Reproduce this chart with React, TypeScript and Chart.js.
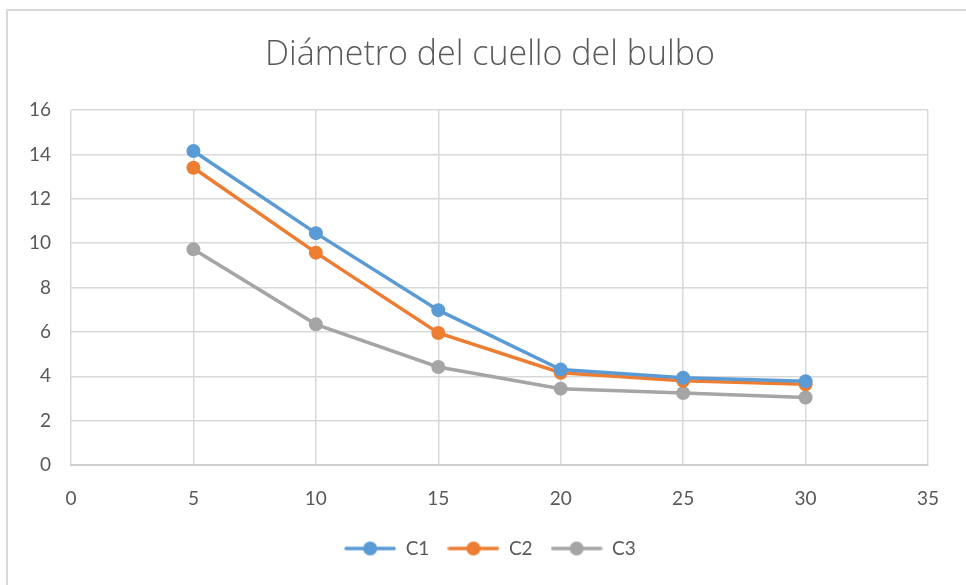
import React, { useEffect, useRef } from "react";
import { Chart, registerables } from "chart.js";

Chart.register(...registerables);

const TITLE = "Diámetro del cuello del bulbo";
const xValues = [5, 10, 15, 20, 25, 30];
const seriesNames = ["C1", "C2", "C3"];
const c1Values = [14.15, 10.45, 6.98, 4.3, 3.93, 3.77];
const c2Values = [13.4, 9.57, 5.95, 4.16, 3.8, 3.64];
const c3Values = [9.72, 6.34, 4.42, 3.44, 3.24, 3.04];
const seriesColors = ["#5B9BD5", "#ED7D31", "#A5A5A5"];

const FONT = "Lato, 'Open Sans', sans-serif";
const TITLE_FONT = "'Open Sans', Lato, sans-serif";
const TEXT_COLOR = "#595959";
const GRID_COLOR = "#D9D9D9";

function legendImage(color: string): HTMLCanvasElement {
  const c = document.createElement("canvas");
  c.width = 52;
  c.height = 16;
  const ctx = c.getContext("2d")!;
  ctx.strokeStyle = color;
  ctx.lineWidth = 3.5;
  ctx.lineCap = "round";
  ctx.beginPath();
  ctx.moveTo(2, 8);
  ctx.lineTo(50, 8);
  ctx.stroke();
  ctx.fillStyle = color;
  ctx.beginPath();
  ctx.arc(26, 8, 7, 0, Math.PI * 2);
  ctx.fill();
  return c;
}

export default function App() {
  const ref = useRef<HTMLCanvasElement | null>(null);

  useEffect(() => {
    if (!ref.current) return;
    const allValues = [c1Values, c2Values, c3Values];
    const datasets = seriesNames.map((name, i) => ({
      label: name,
      data: xValues.map((x, j) => ({ x, y: allValues[i][j] })),
      borderColor: seriesColors[i],
      backgroundColor: seriesColors[i],
      borderWidth: 3.5,
      pointRadius: 7,
      pointHoverRadius: 7,
      pointBorderWidth: 0,
      pointBackgroundColor: seriesColors[i],
      tension: 0,
      yAxisID: "y",
    }));
    const images = seriesColors.map(legendImage);

    const chart = new Chart(ref.current, {
      type: "line",
      data: { datasets },
      options: {
        animation: false,
        responsive: false,
        maintainAspectRatio: false,
        layout: { padding: { left: 14, right: 0, top: 0, bottom: 17 } },
        plugins: {
          title: {
            display: true,
            text: TITLE,
            color: TEXT_COLOR,
            font: { family: TITLE_FONT, size: 34, weight: "300" as any, lineHeight: 1.2 },
            padding: { top: 34.6, bottom: 34.6 },
          },
          legend: {
            display: true,
            position: "bottom",
            labels: {
              usePointStyle: true,
              pointStyleWidth: 52,
              boxWidth: 52,
              boxHeight: 19,
              padding: 18,
              color: TEXT_COLOR,
              font: { family: FONT, size: 19 },
              generateLabels: (ch: any) => {
                const base = Chart.defaults.plugins.legend.labels.generateLabels(ch);
                return base.map((l: any, i: number) => ({ ...l, pointStyle: images[i] }));
              },
            },
          },
          tooltip: { enabled: false },
        },
        scales: {
          x: {
            type: "linear",
            min: 0,
            max: 35,
            ticks: {
              stepSize: 5,
              color: TEXT_COLOR,
              font: { family: FONT, size: 19 },
              padding: 22,
            },
            grid: { color: GRID_COLOR, lineWidth: 1.5, drawTicks: false },
            border: { color: "#CFCFCF", width: 2 },
            afterFit: (s: any) => {
              s.height = 56;
            },
          },
          y: {
            type: "linear",
            position: "left",
            min: 0,
            max: 16,
            ticks: {
              stepSize: 2,
              color: TEXT_COLOR,
              font: { family: FONT, size: 19 },
              padding: 20,
            },
            grid: { color: GRID_COLOR, lineWidth: 1.5, drawTicks: false },
            border: { display: false },
            afterFit: (s: any) => {
              s.width = 57;
            },
          },
          yRight: {
            type: "linear",
            position: "right",
            display: true,
            ticks: { display: false },
            grid: { display: false, drawTicks: false },
            border: { display: false },
            afterFit: (s: any) => {
              s.width = 38;
            },
          },
        },
      },
    });
    return () => chart.destroy();
  }, []);

  return (
    <div
      style={{
        position: "absolute",
        left: 0,
        top: 0,
        width: 966,
        height: 585,
        overflow: "hidden",
        background: "#ffffff",
      }}
    >
      <div
        style={{
          position: "absolute",
          left: 6,
          top: 9,
          width: 1200,
          height: 1200,
          border: "2px solid #D9D9D9",
        }}
      />
      <canvas
        ref={ref}
        width={966}
        height={585}
        style={{ position: "absolute", left: 0, top: 0, width: 966, height: 585 }}
      />
    </div>
  );
}
